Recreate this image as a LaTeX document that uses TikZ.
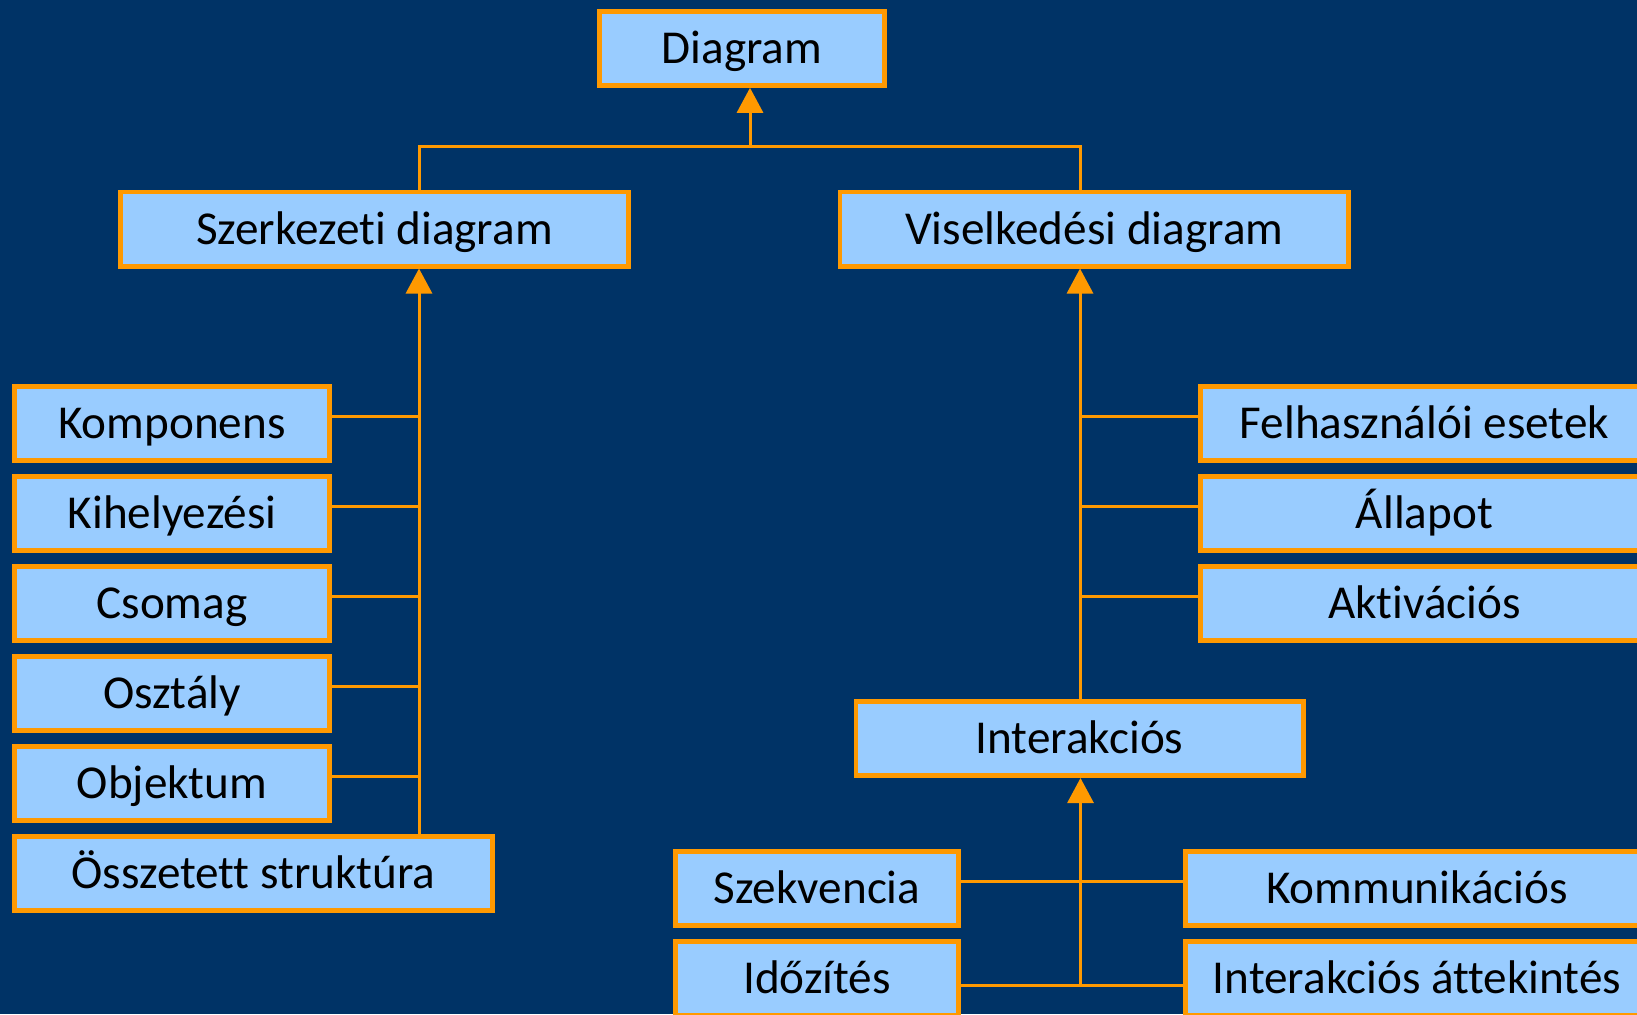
\documentclass[tikz,border=0pt]{standalone}
\usepackage{fontspec}
\setmainfont{Carlito}[Ligatures={NoCommon}]
\usetikzlibrary{arrows.meta}
\definecolor{navy}{HTML}{003366}
\definecolor{boxfill}{HTML}{99CCFF}
\definecolor{umlorange}{HTML}{FF9900}
\begin{document}
\begin{tikzpicture}[x=0.5pt,y=-0.5pt,
  umlbox/.style={draw=umlorange, fill=boxfill, line width=2.4pt, outer sep=auto,
    inner sep=0pt, minimum height=37.1pt, text height=15.1pt, text depth=0pt,
    font=\fontsize{23.6pt}{28pt}\selectfont, text=black},
  link/.style={draw=umlorange, line width=1.5pt},
  gen/.style={link, -{Triangle[length=12.5pt,width=13pt]}}]
% canvas
\useasboundingbox (0,0) rectangle (1637,1014);
\clip (0,0) rectangle (1637,1014);
\fill[navy] (0,0) rectangle (1637,1014);

% top level
\node[umlbox, minimum width=142.6pt] (diagram) at (742,48.3) {Diagram};
\node[umlbox, minimum width=254.1pt] (szerk) at (374.5,229) {Szerkezeti diagram};
\node[umlbox, minimum width=254.35pt] (visel) at (1094.25,229) {Viselkedési diagram};

% structural diagrams
\node[umlbox, minimum width=157.6pt] (komp) at (172,423.5) {Komponens};
\node[umlbox, minimum width=157.6pt] (kihely) at (172,513.5) {Kihelyezési};
\node[umlbox, minimum width=157.6pt] (csomag) at (172,603.5) {Csomag};
\node[umlbox, minimum width=157.6pt] (osztaly) at (172,693.5) {Osztály};
\node[umlbox, minimum width=157.6pt] (objekt) at (172,783.5) {Objektum};
\node[umlbox, minimum width=239.1pt] (ossz) at (253.5,873.5) {Összetett struktúra};

% behavioural diagrams
\node[umlbox, minimum width=224.1pt] (felh) at (1424.5,423.5) {Felhasználói esetek};
\node[umlbox, minimum width=224.1pt] (allapot) at (1424.5,513.5) {Állapot};
\node[umlbox, minimum width=224.1pt] (aktiv) at (1424.5,603.5) {Aktivációs};
\node[umlbox, minimum width=223.6pt] (interak) at (1079.5,738.5) {Interakciós};

% interaction diagrams
\node[umlbox, minimum width=141.6pt] (szekv) at (817,888.5) {Szekvencia};
\node[umlbox, minimum width=141.6pt] (idoz) at (817,978.5) {Időzítés};
\node[umlbox, minimum width=231.6pt] (kommun) at (1417,888.5) {Kommunikációs};
\node[umlbox, minimum width=231.6pt] (attek) at (1417,978.5) {Interakciós áttekintés};

% stems of the generalisation trees
\coordinate (topbus) at (750,146);
\coordinate (lstem) at (419,0);
\coordinate (rstem) at (1080,0);
\coordinate (istem) at (1080.5,0);

% Diagram <- Szerkezeti / Viselkedési
\draw[link] (szerk.north -| lstem) -- (lstem |- topbus) -- (rstem |- topbus) -- (visel.north -| rstem);
\draw[gen] (topbus) -- (topbus |- diagram.south);

% Szerkezeti <- children
\draw[gen] (ossz.north -| lstem) -- (szerk.south -| lstem);
\foreach \n in {komp,kihely,csomag,osztaly,objekt}
  \draw[link] ([yshift=3.75pt]\n.east) -- ([yshift=3.75pt]\n.east -| lstem);

% Viselkedési <- children
\draw[gen] (interak.north -| rstem) -- (visel.south -| rstem);
\foreach \n in {felh,allapot,aktiv}
  \draw[link] ([yshift=3.75pt]\n.west) -- ([yshift=3.75pt]\n.west -| rstem);

% Interakciós <- children
\draw[link] ([yshift=3.75pt]szekv.east) -- ([yshift=3.75pt]kommun.west);
\draw[link] ([yshift=-3.25pt]idoz.east) -- ([yshift=-3.25pt]attek.west);
\draw[gen] ([yshift=-3.25pt]idoz.east -| istem) -- (interak.south -| istem);
\end{tikzpicture}
\end{document}
